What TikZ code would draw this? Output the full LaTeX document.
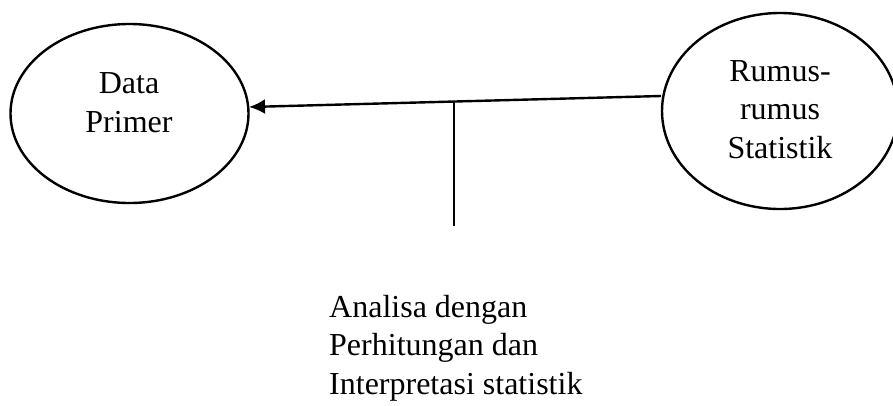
\documentclass[tikz,border=0pt]{standalone}
\usepackage{fontspec}
\setmainfont{Liberation Serif}
\usetikzlibrary{arrows.meta}
\begin{document}
\begin{tikzpicture}[x=1pt,y=-1pt,
  lbl/.style={font=\fontsize{32}{38.5}\selectfont,align=center,inner sep=0pt},
  conn/.style={draw=black,line width=2.4pt}]
\useasboundingbox (0,0) rectangle (893,405);
\draw[line width=2.4pt] (129.5,113.5) ellipse [x radius=119, y radius=89.5];
\draw[line width=2.4pt] (780,111) ellipse [x radius=118, y radius=98];
\node[lbl,anchor=base] (dp) at (129,132) {Data\\Primer};
\node[lbl,anchor=base] (rs) at (780,158) {Rumus-\\rumus\\Statistik};
\coordinate (rsW) at (661,96);
\coordinate (dpE) at (249,107);
\coordinate (jn) at (454,101.5);
\coordinate (jb) at (454,226);
\draw[conn,-{Latex[length=16pt,width=15pt]}] (rsW) -- (dpE);
\draw[conn] (jn) -- (jb);
\node[lbl,align=left,anchor=base west] (an) at (329,394) {Analisa dengan\\Perhitungan dan\\Interpretasi statistik};
\end{tikzpicture}
\end{document}
